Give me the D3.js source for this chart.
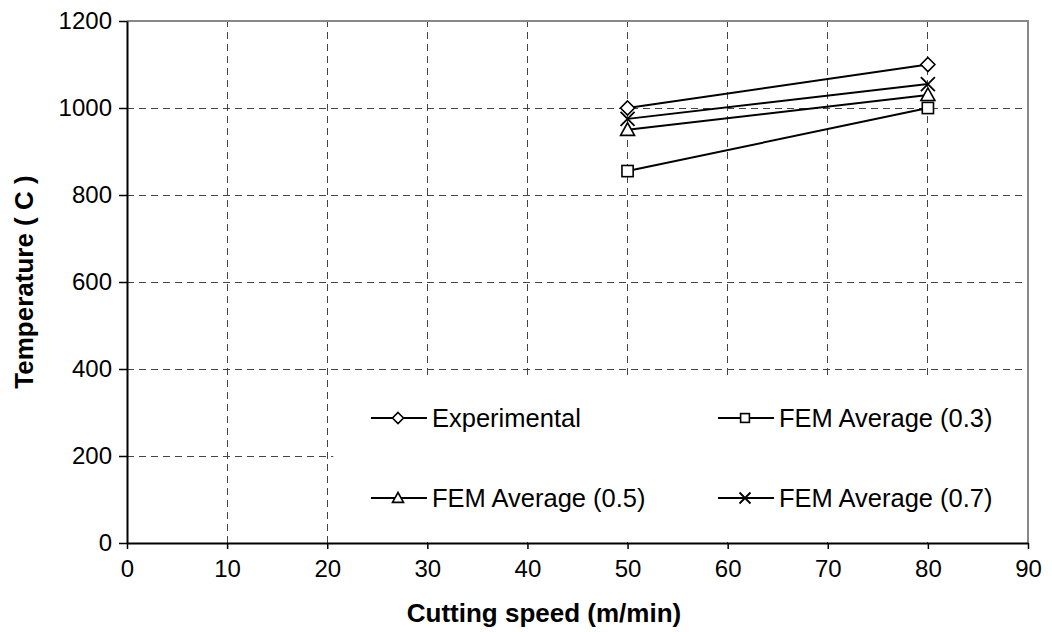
<!DOCTYPE html>
<html>
<head>
<meta charset="utf-8">
<script src="https://cdn.jsdelivr.net/npm/d3@7"></script>
<style>
  body { margin: 0; background: #fff; }
  text { font-family: Arial, "Liberation Sans", sans-serif; fill: #000; }
</style>
</head>
<body>
<div id="chart"></div>
<script>
'use strict';

// chart data
const speeds       = [50, 80];
const experimental = [1000, 1100];
const fem03        = [855, 1000];
const fem05        = [950, 1030];
const fem07        = [975, 1055];
const xTicks = [0, 10, 20, 30, 40, 50, 60, 70, 80, 90];
const yTicks = [0, 200, 400, 600, 800, 1000, 1200];
const seriesNames = ['Experimental', 'FEM Average (0.3)', 'FEM Average (0.5)', 'FEM Average (0.7)'];
const seriesValues = [experimental, fem03, fem05, fem07];
const seriesMarkers = ['diamond', 'square', 'triangle', 'cross'];

const width = 1052, height = 632;
const margin = { left: 127, right: 24, top: 21, bottom: 89 };

const svg = d3.select('#chart').append('svg')
  .attr('width', width)
  .attr('height', height);

const x = d3.scaleLinear().domain([0, 90]).range([margin.left, width - margin.right]);
const y = d3.scaleLinear().domain([0, 1200]).range([height - margin.bottom, margin.top]);

// grid lines (dashed)
const grid = svg.append('g').attr('class', 'grid');
grid.selectAll('line.h')
  .data(yTicks.filter(d => d > 0 && d < 1200))
  .enter().append('line')
  .attr('x1', x(0)).attr('x2', x(90))
  .attr('y1', d => y(d)).attr('y2', d => y(d));
grid.selectAll('line.v')
  .data(xTicks.filter(d => d > 0 && d < 90))
  .enter().append('line')
  .attr('x1', d => x(d)).attr('x2', d => x(d))
  .attr('y1', y(0)).attr('y2', y(1200));
grid.selectAll('line')
  .style('stroke', '#444')
  .style('stroke-width', 1)
  .style('stroke-dasharray', '7,5')
  .attr('shape-rendering', 'crispEdges');

// top / right border
svg.append('path')
  .attr('d', `M${x(0)},${y(1200)}H${x(90)}V${y(0)}`)
  .style('fill', 'none')
  .style('stroke', '#888')
  .style('stroke-width', 2)
  .attr('shape-rendering', 'crispEdges');

// legend background covers the grid
const legendBox = { x0: 20.6, y0: 385 };
svg.append('rect')
  .attr('x', x(legendBox.x0))
  .attr('y', y(legendBox.y0))
  .attr('width', x(90) - x(legendBox.x0) - 1)
  .attr('height', y(0) - y(legendBox.y0) - 1)
  .style('fill', '#fff');

// axes
const xAxis = svg.append('g')
  .attr('transform', `translate(0,${y(0)})`)
  .call(d3.axisBottom(x).tickValues(xTicks).tickFormat(d3.format('d'))
    .tickSizeInner(6).tickSizeOuter(0).tickPadding(11));
const yAxis = svg.append('g')
  .attr('transform', `translate(${x(0)},0)`)
  .call(d3.axisLeft(y).tickValues(yTicks).tickFormat(d3.format('d'))
    .tickSizeInner(8).tickSizeOuter(0).tickPadding(7));
[xAxis, yAxis].forEach(a => {
  a.select('.domain').style('stroke', '#000').style('stroke-width', 2);
  a.selectAll('.tick line').style('stroke', '#000').style('stroke-width', 1.5);
  a.selectAll('.tick text')
    .style('font-size', '24px')
    .style('font-family', 'Arial, "Liberation Sans", sans-serif')
    .style('fill', '#000');
});

// axis titles
svg.append('text')
  .attr('x', 544)
  .attr('y', 622)
  .attr('text-anchor', 'middle')
  .style('font-size', '26px')
  .style('font-weight', 'bold')
  .text('Cutting speed (m/min)');
svg.append('text')
  .attr('transform', `translate(33,${y(600)}) rotate(-90)`)
  .attr('text-anchor', 'middle')
  .style('font-size', '26px')
  .style('font-weight', 'bold')
  .text('Temperature ( C )');

// markers
function drawMarker(g, type, cx, cy, s) {
  const st = m => m.style('fill', '#fff').style('stroke', '#000').style('stroke-width', 1.6);
  if (type === 'diamond') {
    st(g.append('path').attr('d', `M${cx},${cy - s}L${cx + s},${cy}L${cx},${cy + s}L${cx - s},${cy}Z`));
  } else if (type === 'square') {
    st(g.append('rect').attr('x', cx - s * 0.8).attr('y', cy - s * 0.8).attr('width', s * 1.6).attr('height', s * 1.6));
  } else if (type === 'triangle') {
    st(g.append('path').attr('d', `M${cx},${cy - s}L${cx + s},${cy + s * 0.8}L${cx - s},${cy + s * 0.8}Z`));
  } else {
    g.append('path')
      .attr('d', `M${cx - s},${cy - s}L${cx + s},${cy + s}M${cx - s},${cy + s}L${cx + s},${cy - s}`)
      .style('stroke', '#000').style('stroke-width', 1.8).style('fill', 'none');
  }
}

const line = d3.line()
  .x((d, i) => x(speeds[i]))
  .y(d => y(d));

const plot = svg.append('g').attr('class', 'series');
seriesValues.forEach((vals, k) => {
  plot.append('path')
    .datum(vals)
    .attr('d', line)
    .style('fill', 'none')
    .style('stroke', '#000')
    .style('stroke-width', 2);
});
seriesValues.forEach((vals, k) => {
  vals.forEach((v, i) => drawMarker(plot, seriesMarkers[k], x(speeds[i]), y(v), 7));
});

// legend
const legendPos = [
  { lx: 371, ly: 418 },
  { lx: 718, ly: 418 },
  { lx: 371, ly: 498 },
  { lx: 718, ly: 498 }
];
const legend = svg.append('g').attr('class', 'legend');
seriesNames.forEach((name, k) => {
  const p = legendPos[k];
  legend.append('line')
    .attr('x1', p.lx).attr('x2', p.lx + 56)
    .attr('y1', p.ly).attr('y2', p.ly)
    .style('stroke', '#000').style('stroke-width', 2);
  drawMarker(legend, seriesMarkers[k], p.lx + 27, p.ly, 5.5);
  legend.append('text')
    .attr('x', p.lx + 61)
    .attr('y', p.ly + 9)
    .style('font-size', '25.5px')
    .text(name);
});
</script>
</body>
</html>
